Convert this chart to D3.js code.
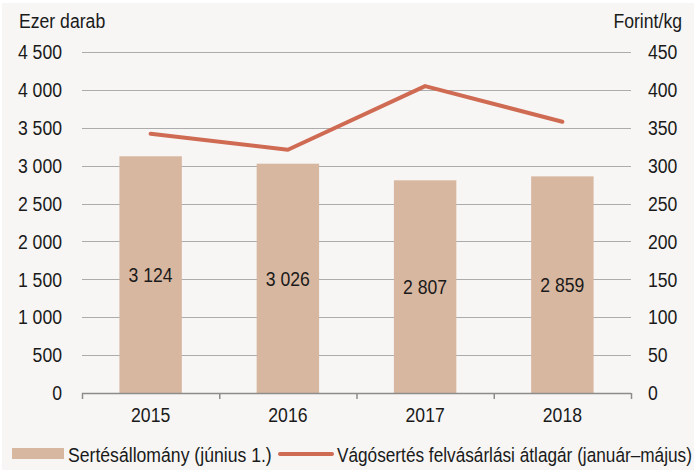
<!DOCTYPE html>
<html>
<head>
<meta charset="utf-8">
<script src="https://cdn.jsdelivr.net/npm/d3@7"></script>
<style>
  body { margin: 0; background: #fff; }
  text { font-family: "Liberation Sans", Arial, sans-serif; fill: #1a1a1a; }
</style>
</head>
<body>
<svg width="699" height="473"></svg>
<script>
var years = ["2015", "2016", "2017", "2018"];
var stock = [3124, 3026, 2807, 2859];          // ezer darab
var price = [342, 321, 405, 358];              // Forint/kg
var leftTicks = [0, 500, 1000, 1500, 2000, 2500, 3000, 3500, 4000, 4500];
var rightTicks = [0, 50, 100, 150, 200, 250, 300, 350, 400, 450];
var legendLabels = ["Sertésállomány (június 1.)", "Vágósertés felvásárlási átlagár (január–május)"];

var barColor = "#d8b7a1";
var lineColor = "#d06b53";
var squeeze = 0.84; // narrow font look

var svg = d3.select("svg");
svg.append("rect").attr("x", 2).attr("y", 3).attr("width", 692).attr("height", 467).attr("fill", "#f7f6f4");

var plotL = 82, plotR = 631, plotT = 52, plotB = 393;

var x = d3.scaleBand().domain(years).range([plotL, plotR]).paddingInner(0.545).paddingOuter(0.2725);
var yL = d3.scaleLinear().domain([0, 4500]).range([plotB, plotT]);
var yR = d3.scaleLinear().domain([0, 450]).range([plotB, plotT]);

var fmt = function (v) { return d3.format(",")(v).replace(/,/g, " "); };

// squeeze text horizontally, keeping its anchor point
function narrow(sel) {
    sel.each(function () {
        var t = d3.select(this);
        var xv = +t.attr("x") || 0;
        t.attr("x", xv / squeeze).attr("transform", "scale(" + squeeze + ",1)");
    });
}

// gridlines
svg.append("g").selectAll("line").data(leftTicks.slice(1)).enter().append("line")
    .attr("x1", plotL).attr("x2", plotR)
    .attr("y1", function (d) { return Math.round(yL(d)) + 0.5; })
    .attr("y2", function (d) { return Math.round(yL(d)) + 0.5; })
    .attr("stroke", "#acacac").attr("stroke-width", 1);

// bars
svg.append("g").selectAll("rect").data(stock).enter().append("rect")
    .attr("x", function (d, i) { return x(years[i]); })
    .attr("y", function (d) { return yL(d); })
    .attr("width", x.bandwidth())
    .attr("height", function (d) { return plotB - yL(d); })
    .attr("fill", barColor);

// bar value labels
svg.append("g").selectAll("text").data(stock).enter().append("text")
    .attr("x", function (d, i) { return x(years[i]) + x.bandwidth() / 2; })
    .attr("y", function (d) { return (yL(d) + plotB) / 2; })
    .attr("dy", "0.35em")
    .attr("text-anchor", "middle")
    .style("font-size", "21px")
    .text(function (d) { return fmt(d); })
    .call(narrow);

// price line
var line = d3.line()
    .x(function (d, i) { return x(years[i]) + x.bandwidth() / 2; })
    .y(function (d) { return yR(d); });
svg.append("path").datum(price)
    .attr("d", line)
    .attr("fill", "none")
    .attr("stroke", lineColor)
    .attr("stroke-width", 4)
    .attr("stroke-linecap", "round")
    .attr("stroke-linejoin", "round");

// x axis
var xAxis = d3.axisBottom(x).tickSize(0).tickPadding(14);
var gx = svg.append("g").attr("transform", "translate(0," + plotB + ")").call(xAxis);
gx.select(".domain").remove();
gx.selectAll("text").style("font-size", "21px").style("font-family", null).style("fill", "#1a1a1a").call(narrow);
svg.append("line").attr("x1", plotL).attr("x2", plotR).attr("y1", plotB + 0.5).attr("y2", plotB + 0.5)
    .attr("stroke", "#8c8c8c").attr("stroke-width", 1.5);
svg.append("g").selectAll("line").data(d3.range(years.length + 1)).enter().append("line")
    .attr("x1", function (i) { return plotL + i * x.step() + 0.5; })
    .attr("x2", function (i) { return plotL + i * x.step() + 0.5; })
    .attr("y1", plotB).attr("y2", plotB + 6)
    .attr("stroke", "#8c8c8c").attr("stroke-width", 1.5);

// left axis
var gl = svg.append("g").attr("transform", "translate(" + plotL + ",0)")
    .call(d3.axisLeft(yL).tickValues(leftTicks).tickSize(0).tickPadding(20).tickFormat(fmt));
gl.select(".domain").remove();
gl.selectAll("text").style("font-size", "21px").style("font-family", null).style("fill", "#1a1a1a").call(narrow);

// right axis
var gr = svg.append("g").attr("transform", "translate(" + plotR + ",0)")
    .call(d3.axisRight(yR).tickValues(rightTicks).tickSize(0).tickPadding(17));
gr.select(".domain").remove();
gr.selectAll("text").style("font-size", "21px").style("font-family", null).style("fill", "#1a1a1a").call(narrow);

// axis titles
svg.append("text").attr("x", 19).attr("y", 28).style("font-size", "21px").text("Ezer darab").call(narrow);
svg.append("text").attr("x", 682).attr("y", 28).attr("text-anchor", "end").style("font-size", "21px").text("Forint/kg").call(narrow);

// legend
var lg = svg.append("g");
lg.append("rect").attr("x", 12).attr("y", 448).attr("width", 52).attr("height", 11).attr("fill", barColor);
lg.append("text").attr("x", 68).attr("y", 462).style("font-size", "21px").text(legendLabels[0]).call(narrow);
lg.append("line").attr("x1", 280).attr("x2", 332).attr("y1", 454).attr("y2", 454)
    .attr("stroke", lineColor).attr("stroke-width", 4).attr("stroke-linecap", "round");
lg.append("text").attr("x", 337).attr("y", 462).style("font-size", "20.5px").text(legendLabels[1]).call(narrow);
</script>
</body>
</html>
